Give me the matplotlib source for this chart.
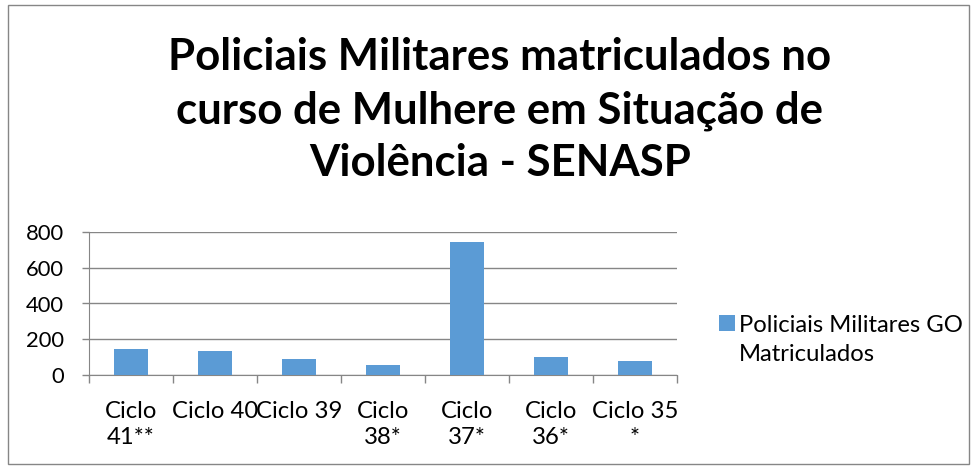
import matplotlib
matplotlib.use("Agg")
import matplotlib.pyplot as plt
from matplotlib.patches import Rectangle
import numpy as np

categories = ["Ciclo\n41**", "Ciclo 40", "Ciclo 39", "Ciclo\n38*", "Ciclo\n37*", "Ciclo\n36*", "Ciclo 35\n*"]
values = [143, 132, 89, 56, 745, 102, 76]
series_name = "Policiais Militares GO\nMatriculados"
title = "Policiais Militares matriculados no\ncurso de Mulhere em Situação de\nViolência - SENASP"
yticks = [0, 200, 400, 600, 800]

plt.rcParams['font.family'] = ['Lato', 'DejaVu Sans']

W, H = 977, 469
fig = plt.figure(figsize=(W / 100, H / 100), dpi=100)
renderer = fig.canvas.get_renderer()


def text_width(s, size, weight='normal'):
    t = fig.text(0, 0, s, fontsize=size, fontweight=weight)
    w = t.get_window_extent(renderer).width
    t.remove()
    return w


def fit_size(s, target_px, weight='normal'):
    return 10 * target_px / text_width(s, 10, weight)


def line_step(size):
    t1 = fig.text(0, 0, "A", fontsize=size, linespacing=1.0)
    t2 = fig.text(0, 0, "A\nA", fontsize=size, linespacing=1.0)
    d = t2.get_window_extent(renderer).height - t1.get_window_extent(renderer).height
    t1.remove(); t2.remove()
    return d


body_size = fit_size("Policiais Militares GO", 224)
ytick_size = fit_size("800", 38)
title_lines = title.split("\n")
title_size = fit_size(title_lines[0], 664, 'bold')

# axes
ax = fig.add_axes([89 / W, 1 - 375 / H, 588 / W, 143 / H])
x = np.arange(len(categories))
ax.bar(x, values, width=0.4, color="#5B9BD5", zorder=3, label=series_name)
ax.set_xlim(-0.5, len(categories) - 0.5)
ax.set_ylim(0, 800)
ax.set_yticks(yticks)
ax.set_yticklabels([str(v) for v in yticks], fontsize=ytick_size)
ax.set_xticks(x)
ax.set_xticklabels(categories, fontsize=body_size,
                   linespacing=27 / line_step(body_size))
ax.set_xticks(np.arange(-0.5, len(categories), 1), minor=True)
ax.tick_params(axis='x', which='major', length=0, pad=18.5)
ax.tick_params(axis='x', which='minor', length=5.5, color="#868686", width=1)
ax.tick_params(axis='y', length=5, color="#868686", width=1, pad=13)
ax.grid(axis='y', color="#868686", linewidth=1, zorder=0)
for s in ['top', 'right']:
    ax.spines[s].set_visible(False)
ax.spines['left'].set_color("#868686")
ax.spines['bottom'].set_color("#868686")

# title, one line at a time
for line, base in zip(title_lines, [70, 123, 176]):
    fig.text(500 / W, 1 - base / H, line, ha='center', va='baseline',
             fontsize=title_size, fontweight='bold')

# legend
sq = 16 / (body_size * 100 / 72)
leg = fig.legend(loc='upper left', bbox_to_anchor=(719 / W, 1 - 315 / H), frameon=False,
                 fontsize=body_size, handlelength=sq, handleheight=sq,
                 handletextpad=4 / (body_size * 100 / 72),
                 borderaxespad=0, borderpad=0)
for t in leg.get_texts():
    t.set_linespacing(31 / line_step(body_size))
for col in leg._legend_handle_box.get_children():
    for item in col.get_children():
        item.align = "top"

fig.patches.append(Rectangle((8 / W, 5 / H), 961 / W, 459 / H, transform=fig.transFigure,
                             fill=False, edgecolor="#868686", linewidth=1))

fig.savefig("out.png", dpi=100)
